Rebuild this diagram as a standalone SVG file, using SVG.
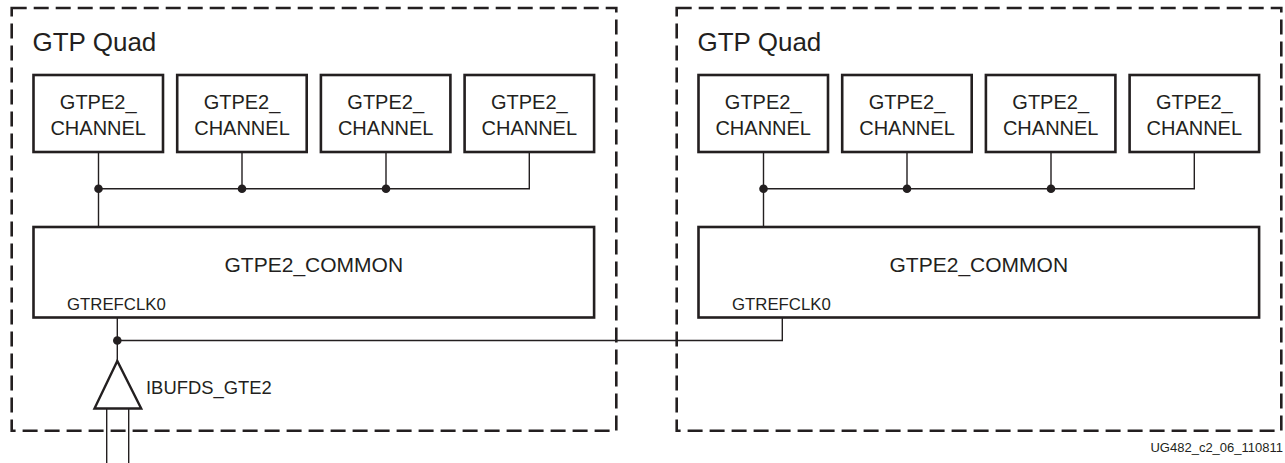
<svg xmlns="http://www.w3.org/2000/svg" width="1285" height="463" viewBox="0 0 1285 463">
<style>
text{font-family:"Liberation Sans",Arial,sans-serif;fill:#231f20}
.quad{fill:none;stroke:#231f20;stroke-width:2.6;stroke-dasharray:15 7}
.box{fill:#fff;stroke:#231f20;stroke-width:2.6}
.w{fill:none;stroke:#231f20;stroke-width:1.4}
.dot{fill:#231f20}
.title{font-size:26px}
.ch{font-size:20px;text-anchor:middle}
.cm{font-size:21px;text-anchor:middle}
.pin{font-size:16.8px}
</style>
<rect width="1285" height="463" fill="#fff"/>
<g id="quad-left">
<rect class="quad" x="11.7" y="8" width="604.6" height="422.7"/>
<text class="title" x="32.5" y="51">GTP Quad</text>
</g>
<g id="quad-right">
<rect class="quad" x="676.7" y="8" width="604.6" height="422.7"/>
<text class="title" x="697.5" y="51">GTP Quad</text>
</g>
<g id="connectors">
<path class="w" d="M98.5 152V227M98.5 188.7H529.3V152M242 152V188.7M386 152V188.7"/>
<circle class="dot" cx="98.5" cy="188.7" r="4.3"/>
<circle class="dot" cx="242" cy="188.7" r="4.3"/>
<circle class="dot" cx="386" cy="188.7" r="4.3"/>
<path class="w" d="M763.5 152V227M763.5 188.7H1194.3V152M907 152V188.7M1051 152V188.7"/>
<circle class="dot" cx="763.5" cy="188.7" r="4.3"/>
<circle class="dot" cx="907" cy="188.7" r="4.3"/>
<circle class="dot" cx="1051" cy="188.7" r="4.3"/>
<path class="w" d="M117.3 317.5V361M117.3 340.5H782.3V317.5"/>
<circle class="dot" cx="117.3" cy="340.5" r="4.3"/>
<path class="w" d="M106.7 408.5V463M128.7 408.5V463"/>
</g>
<g id="ch-l1"><rect class="box" x="33.5" y="75" width="129.5" height="77"/><text class="ch" x="98.2" y="109">GTPE2_</text><text class="ch" x="98.2" y="135">CHANNEL</text></g>
<g id="ch-l2"><rect class="box" x="177.2" y="75" width="129.5" height="77"/><text class="ch" x="242" y="109">GTPE2_</text><text class="ch" x="242" y="135">CHANNEL</text></g>
<g id="ch-l3"><rect class="box" x="320.9" y="75" width="129.5" height="77"/><text class="ch" x="385.7" y="109">GTPE2_</text><text class="ch" x="385.7" y="135">CHANNEL</text></g>
<g id="ch-l4"><rect class="box" x="464.6" y="75" width="129.5" height="77"/><text class="ch" x="529.3" y="109">GTPE2_</text><text class="ch" x="529.3" y="135">CHANNEL</text></g>
<g id="ch-r1"><rect class="box" x="698.5" y="75" width="129.5" height="77"/><text class="ch" x="763.2" y="109">GTPE2_</text><text class="ch" x="763.2" y="135">CHANNEL</text></g>
<g id="ch-r2"><rect class="box" x="842.2" y="75" width="129.5" height="77"/><text class="ch" x="907" y="109">GTPE2_</text><text class="ch" x="907" y="135">CHANNEL</text></g>
<g id="ch-r3"><rect class="box" x="985.9" y="75" width="129.5" height="77"/><text class="ch" x="1050.7" y="109">GTPE2_</text><text class="ch" x="1050.7" y="135">CHANNEL</text></g>
<g id="ch-r4"><rect class="box" x="1129.6" y="75" width="129.5" height="77"/><text class="ch" x="1194.3" y="109">GTPE2_</text><text class="ch" x="1194.3" y="135">CHANNEL</text></g>
<g id="common-l"><rect class="box" x="33.5" y="227" width="560.6" height="90.5"/><text class="cm" x="313.8" y="272">GTPE2_COMMON</text><text class="pin" x="67" y="310">GTREFCLK0</text></g>
<g id="common-r"><rect class="box" x="698.5" y="227" width="560.6" height="90.5"/><text class="cm" x="978.8" y="272">GTPE2_COMMON</text><text class="pin" x="732" y="310">GTREFCLK0</text></g>
<g id="ibufds">
<path d="M117.3 361L94.5 408.5H141.2Z" fill="#fff" stroke="#231f20" stroke-width="2.4" stroke-linejoin="miter"/>
<text x="146" y="394" style="font-size:18.4px">IBUFDS_GTE2</text>
</g>
<text x="1283" y="452" style="font-size:13px;text-anchor:end">UG482_c2_06_110811</text>
</svg>
